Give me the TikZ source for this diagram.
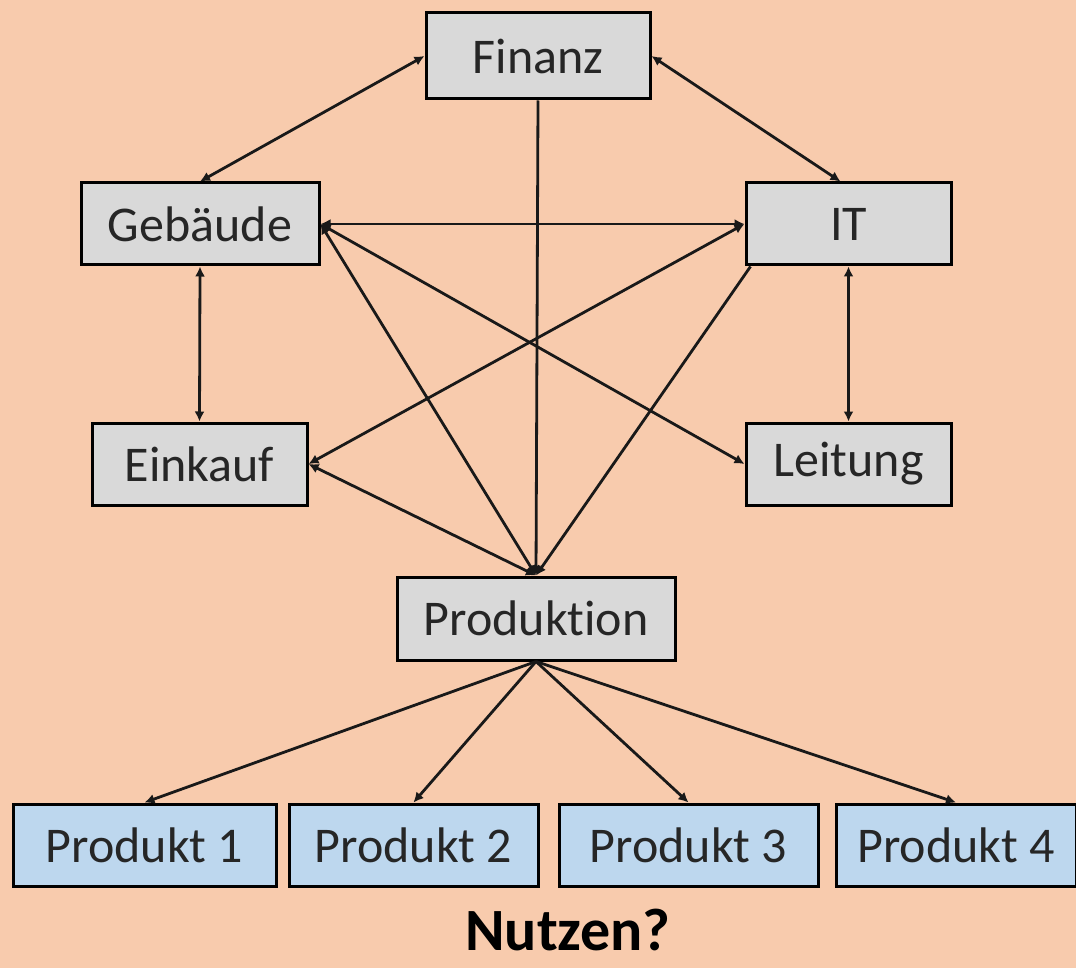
\documentclass[tikz,border=0pt]{standalone}
\usepackage{fontspec}
\setmainfont{Carlito}[Ligatures={NoCommon}]
\usetikzlibrary{arrows.meta,calc}
\definecolor{bgpeach}{HTML}{F8CBAD}
\definecolor{boxgray}{HTML}{D9D9D9}
\definecolor{boxblue}{HTML}{BDD7EE}
\tikzset{
  unit/.style={draw=black, line width=3pt, fill=boxgray, inner sep=0pt,
    font=\fontsize{50}{60}\selectfont, text=black!85},
  prodbox/.style={unit, fill=boxblue},
  link/.style={line width=2.8pt, draw=black!90, {Latex[length=10pt,width=10pt]}-{Latex[length=10pt,width=10pt]}},
  onelink/.style={line width=2.8pt, draw=black!90, -{Latex[length=10pt,width=10pt]}}
}
\begin{document}
\begin{tikzpicture}[x=1pt,y=-1pt]
\useasboundingbox (0,0) rectangle (1076,968);
\fill[bgpeach] (0,0) rectangle (1076,968);

\node[unit, minimum width=224pt, minimum height=86pt] (fin) at (538,56) {Finanz};
\node[unit, minimum width=238pt, minimum height=82pt] (geb) at (200,224) {Gebäude};
\node[unit, minimum width=205pt, minimum height=82pt] (it) at (848.5,224) {IT};
\node[unit, minimum width=215pt, minimum height=82pt] (ein) at (199.5,464) {Einkauf};
\node[unit, minimum width=205pt, minimum height=82pt] (lei) at (848.5,464) {Leitung};
\node[unit, minimum width=278pt, minimum height=83pt] (pro) at (536,618.5) {Produktion};

\node[prodbox, minimum width=263pt, minimum height=82pt] (p1) at (144.5,845) {Produkt 1};
\node[prodbox, minimum width=249pt, minimum height=82pt] (p2) at (413.5,845) {Produkt 2};
\node[prodbox, minimum width=259pt, minimum height=82pt] (p3) at (688.5,845) {Produkt 3};
\node[prodbox, minimum width=240pt, minimum height=82pt] (p4) at (956,845) {Produkt 4};

\node[anchor=base, inner sep=0pt, font=\bfseries\fontsize{60}{64}\selectfont, text=black] (nutzen) at (568,950) {Nutzen?};

\draw[link] (fin.west) -- (geb.north);
\draw[link] (fin.east) -- ($(it.north)+(-8,0)$);
\draw[link] (geb.east) -- (it.west);
\draw[link] (geb.south) -- (ein.north);
\draw[link] (it.south) -- (lei.north);
\draw[link] (geb.east) -- (lei.west);
\draw[link] (geb.east) -- (pro.north);
\draw[link] (it.west) -- (ein.east);
\draw[link] (ein.east) -- (pro.north);
\draw[onelink] (fin.south) -- (pro.north);
\draw[onelink] ($(it.south west)+(6,0)$) -- (pro.north);

\draw[onelink] (pro.south) -- (p1.north);
\draw[onelink] (pro.south) -- (p2.north);
\draw[onelink] (pro.south) -- (p3.north);
\draw[onelink] (pro.south) -- (p4.north);
\end{tikzpicture}
\end{document}
